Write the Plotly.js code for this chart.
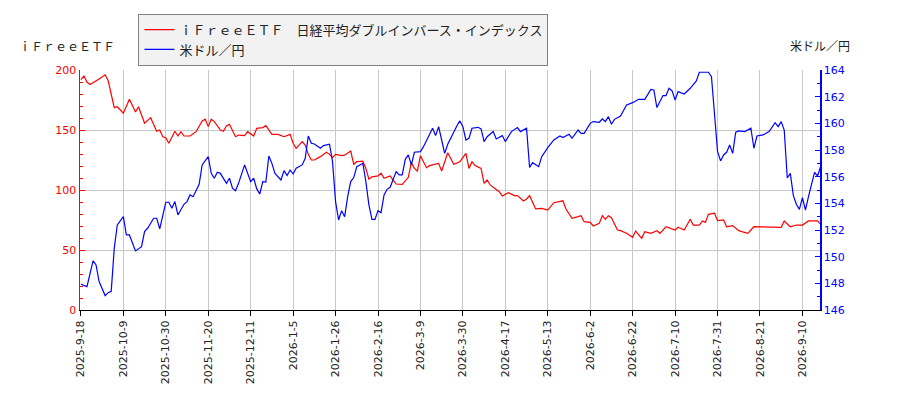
<!DOCTYPE html>
<html>
<head>
<meta charset="utf-8">
<script src="https://cdn.plot.ly/plotly-3.0.1.min.js"></script>
<style>
  body { margin: 0; background: #fff; }
  #plot { width: 900px; height: 400px; }
</style>
</head>
<body>
<div id="plot"></div>
<script>
// 取引日の番号（横軸）と値
const etfName = 'ｉＦｒｅｅＥＴＦ　日経平均ダブルインバース・インデックス';
const fxName = '米ドル／円';

const tickDay = [0, 14, 28, 42, 56, 70, 84, 98, 112, 126, 140, 154, 168, 182, 196, 210, 224, 238];
const tickText = ['2025-9-18', '2025-10-9', '2025-10-30', '2025-11-20', '2025-12-11', '2026-1-5',
  '2026-1-26', '2026-2-16', '2026-3-9', '2026-3-30', '2026-4-17', '2026-5-13', '2026-6-2',
  '2026-6-22', '2026-7-10', '2026-7-31', '2026-8-21', '2026-9-10'];

const etfDay = [0, 1, 2, 3, 6, 8, 9, 11, 12, 14, 16, 18, 19, 21, 23, 25, 26, 27, 28, 29, 31, 32, 33, 34,
  36, 38, 40, 41, 42, 43, 44, 46, 47, 48, 49, 51, 52, 54, 55, 57, 58, 60, 61, 62, 63, 65, 67, 69, 70,
  71, 73, 74, 75, 76, 77, 79, 81, 82, 83, 84, 86, 87, 89, 90, 91, 93, 94, 95, 96, 98, 99, 100, 102,
  103, 104, 106, 108, 109, 110, 111, 112, 114, 115, 118, 119, 121, 123, 125, 127, 128, 129, 130, 132,
  133, 134, 135, 137, 138, 139, 141, 143, 144, 146, 147, 148, 150, 152, 154, 156, 159, 160, 162, 164,
  165, 166, 168, 169, 171, 172, 173, 174, 175, 177, 178, 180, 182, 183, 185, 186, 188, 190, 191, 193,
  194, 196, 197, 199, 201, 202, 204, 205, 206, 207, 209, 210, 212, 213, 215, 217, 218, 220, 222, 225,
  227, 231, 232, 234, 236, 238, 240, 243, 244];
const etfVal = [192, 195, 190, 188, 192.5, 196, 191, 168.6, 169.4, 164, 175.6, 165, 169.4, 155.6, 160.3,
  149, 150, 144.4, 143.6, 139, 149, 145, 148.6, 145, 145, 148.6, 157.5, 159, 152.8, 159, 157, 150, 149,
  153.3, 154.7, 144.4, 145.8, 145.3, 148.6, 145, 151.4, 152, 153.6, 150, 146.4, 146.4, 144.4, 146.4, 139,
  134.7, 140.3, 137.5, 129.7, 125, 125, 127.8, 131.4, 129.7, 127, 129.7, 128.6, 129, 132.5, 121.4, 123.6,
  124, 118, 109, 111, 111.7, 114, 109.7, 111.7, 108.3, 105, 104.7, 110.6, 122.8, 118, 115.8, 128.6, 118.6,
  120.3, 122.2, 115.8, 131, 121.4, 123.6, 130.6, 118, 123.6, 120.3, 118, 105.6, 108.3, 104.2, 100, 98.6,
  95, 97.8, 95.3, 95.3, 90.8, 92.5, 95.3, 84.2, 84.7, 83.3, 89.4, 91, 84.2, 76.4, 77.8, 78.6, 73.6, 73,
  70, 72.2, 78.6, 75.6, 78.6, 76.9, 66.7, 66.1, 63.9, 60.6, 65.8, 59.7, 65.3, 63.9, 66.1, 63.9, 69.4,
  68.6, 66.7, 68.9, 66.7, 75.6, 70.8, 70.8, 74.2, 73, 79.7, 80.6, 74.4, 75, 69.4, 70.3, 66.1, 65.3, 63.9,
  69.4, 69.4, 68.9, 68.9, 74.2, 69.4, 70.8, 70.8, 74.2, 74.2, 71.4];

const fxDay = [0, 2, 4, 5, 6, 8, 9, 10, 11, 12, 14, 15, 16, 18, 20, 21, 22, 24, 25, 26, 28, 29, 30, 31,
  32, 34, 35, 36, 37, 39, 40, 42, 43, 44, 45, 46, 48, 49, 50, 51, 52, 54, 56, 57, 58, 59, 60, 61, 62, 63,
  64, 65, 66, 67, 68, 69, 70, 71, 73, 74, 75, 76, 77, 79, 80, 82, 83, 84, 85, 86, 87, 88, 89, 90, 91, 93,
  94, 95, 96, 97, 98, 99, 100, 101, 102, 104, 105, 106, 107, 108, 109, 110, 112, 113, 115, 116, 117, 118,
  119, 120, 121, 123, 124, 125, 126, 127, 128, 129, 131, 132, 133, 134, 136, 137, 139, 140, 142, 144, 145,
  147, 148, 149, 151, 152, 154, 156, 158, 159, 161, 162, 164, 165, 166, 168, 169, 171, 172, 173, 174, 175,
  176, 178, 180, 182, 184, 186, 188, 189, 190, 192, 193, 194, 195, 196, 197, 199, 200, 201, 203, 204, 205,
  207, 208, 209, 210, 211, 212, 213, 214, 215, 216, 217, 219, 221, 222, 223, 225, 227, 229, 230, 231, 232,
  233, 234, 235, 236, 237, 238, 239, 240, 241, 242, 243, 244];
const fxVal = [147.93, 147.75, 149.68, 149.38, 148.13, 147.08, 147.3, 147.4, 150.63, 152.38, 153, 151.63,
  151.63, 150.43, 150.75, 151.88, 152.13, 152.88, 152.88, 152.08, 154.08, 154.08, 153.63, 154.13, 153.13,
  153.93, 154.13, 154.63, 154.5, 155.43, 156.88, 157.5, 156.25, 155.88, 156.33, 156.25, 155.5, 155.88,
  155.13, 154.95, 155.5, 156.88, 155.63, 155.88, 155.08, 154.7, 155.63, 155.6, 157.55, 157, 156.25, 156,
  155.75, 156.45, 156.08, 156.5, 156.2, 156.63, 156.88, 157.38, 159.05, 158.5, 158.45, 158.13, 158.33,
  158.43, 157.13, 154.13, 152.75, 153.45, 153, 154.5, 155.63, 155.93, 156.75, 157, 155.63, 153.88, 152.8,
  152.8, 153.45, 153.3, 154.63, 155.05, 155.2, 156.38, 156.13, 156.13, 157.3, 157.63, 156.88, 157.83,
  157.88, 158.25, 159.25, 159.63, 159.08, 159.75, 158.75, 157.75, 158.43, 159.38, 159.8, 160.18, 159.75,
  158.75, 158.88, 159.63, 159.7, 159.58, 158.63, 159, 159.38, 158.83, 159.08, 158.63, 159.38, 159.68,
  159.38, 159.63, 156.7, 157.05, 156.75, 157.5, 158.18, 158.75, 159.05, 158.93, 159.18, 158.88, 159.5,
  159.25, 159.25, 160, 160.13, 160.08, 160.33, 160.13, 160.5, 159.93, 160.3, 160.55, 161.38, 161.55, 161.8,
  161.8, 162.55, 162.5, 161.18, 162.08, 162.08, 162.63, 162.43, 161.75, 162.38, 162.2, 162.38, 162.63,
  163.18, 163.83, 163.83, 163.83, 163.5, 161, 157.9, 157.18, 157.63, 157.83, 158.38, 157.75, 159.33,
  159.43, 159.38, 159.63, 158.13, 159.05, 159.13, 159.38, 160.05, 159.75, 160.13, 159.5, 155.9, 156.25,
  154.6, 153.93, 153.55, 154.43, 153.5, 154.5, 155.38, 156.33, 156.05, 156.75];

const labelFont = 'DejaVu Sans, Noto Sans CJK JP, sans-serif';
const jpFont = 'Noto Sans CJK JP, sans-serif';

function makeTraces() {
  return [
    {
      x: etfDay, y: etfVal, type: 'scatter', mode: 'lines', name: etfName,
      line: { color: '#ff0000', width: 1.2 }, yaxis: 'y',
      hoverinfo: 'skip'
    },
    {
      x: fxDay, y: fxVal, type: 'scatter', mode: 'lines', name: fxName,
      line: { color: '#0000ff', width: 1.2 }, yaxis: 'y2',
      hoverinfo: 'skip'
    }
  ];
}

const layout = {
  width: 900,
  height: 400,
  margin: { l: 80, r: 80, t: 70, b: 90 },
  paper_bgcolor: '#ffffff',
  plot_bgcolor: '#ffffff',
  showlegend: true,
  legend: {
    x: 0.079, y: 1.235, xanchor: 'left', yanchor: 'top',
    bgcolor: '#f2f2f2', bordercolor: '#808080', borderwidth: 1,
    font: { family: jpFont, size: 13, color: '#222' },
    tracegroupgap: 0,
    itemwidth: 30
  },
  xaxis: {
    range: [-0.3, 243.8],
    tickmode: 'array',
    tickvals: tickDay,
    ticktext: tickText,
    tickangle: -90,
    tickfont: { family: labelFont, size: 11, color: '#222' },
    ticks: 'outside', ticklen: 5, tickcolor: '#000',
    showline: true, linecolor: '#000', linewidth: 1,
    showgrid: true, gridcolor: '#c8c8c8', gridwidth: 1,
    zeroline: false,
    fixedrange: true
  },
  yaxis: {
    range: [0, 200],
    tickvals: [0, 50, 100, 150, 200],
    tickfont: { family: labelFont, size: 11, color: '#ff0000' },
    ticks: 'inside', ticklen: 5, tickcolor: '#ff0000',
    minor: { dtick: 10, ticks: 'inside', ticklen: 3, tickcolor: '#ff0000', showgrid: false },
    showline: true, linecolor: '#ff0000', linewidth: 1.5,
    showgrid: true, gridcolor: '#c8c8c8', gridwidth: 1,
    zeroline: false,
    fixedrange: true
  },
  yaxis2: {
    overlaying: 'y', side: 'right',
    range: [146, 164],
    dtick: 2,
    tickfont: { family: labelFont, size: 11, color: '#0000ff' },
    ticks: 'inside', ticklen: 5, tickcolor: '#0000ff',
    minor: { dtick: 1, ticks: 'inside', ticklen: 3, tickcolor: '#0000ff', showgrid: false },
    showline: true, linecolor: '#0000ff', linewidth: 1.5,
    showgrid: false,
    zeroline: false,
    fixedrange: true
  },
  annotations: [
    { text: 'ｉＦｒｅｅＥＴＦ', xref: 'paper', yref: 'paper', x: -0.018, y: 1.104,
      showarrow: false, xanchor: 'center', yanchor: 'middle',
      font: { family: jpFont, size: 12, color: '#222' } },
    { text: '米ドル／円', xref: 'paper', yref: 'paper', x: 1.0, y: 1.104,
      showarrow: false, xanchor: 'center', yanchor: 'middle',
      font: { family: jpFont, size: 12, color: '#222' } }
  ]
};

Plotly.newPlot('plot', makeTraces(), layout, { staticPlot: true, displayModeBar: false });
</script>
</body>
</html>
